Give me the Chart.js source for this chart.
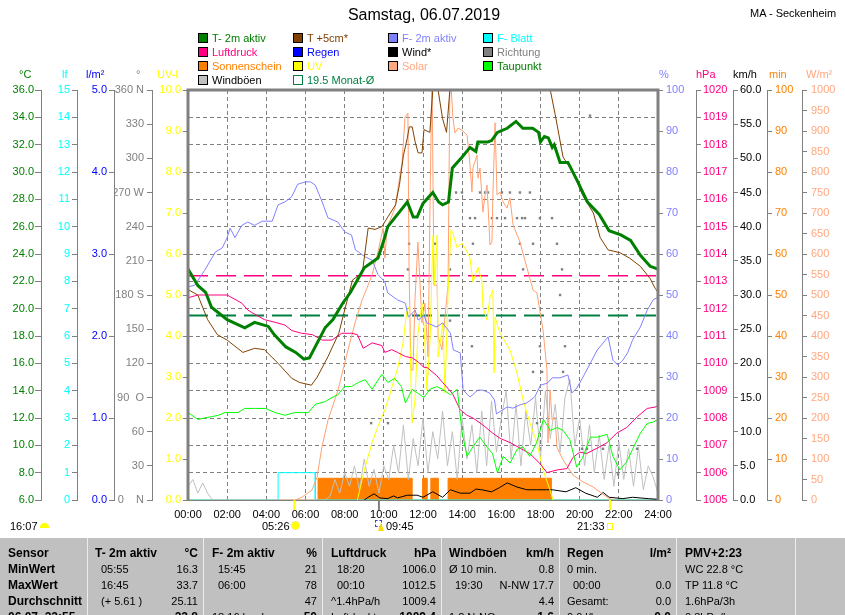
<!DOCTYPE html>
<html lang="de">
<head>
<meta charset="utf-8">
<title>Samstag, 06.07.2019 - MA - Seckenheim</title>
<script src="https://cdn.jsdelivr.net/npm/chart.js"></script>
<style>
  body { margin: 0; background: #fff; }
  #seite { position: relative; width: 845px; height: 615px; overflow: hidden; background: #fff;
           font-family: 'Liberation Sans', Arial, sans-serif; font-size: 11px; color: #000; }
  #diagramm { position: absolute; left: 0; top: 0; }
  .abs { position: absolute; white-space: nowrap; line-height: 14px; }
  .box { position: absolute; width: 8px; height: 8px; border: 1px solid #000; }
  #titel { position: absolute; left: 0; width: 848px; top: 5px; text-align: center; font-size: 16px; line-height: 20px; }
  #ort { position: absolute; left: 750px; top: 6px; font-size: 11px; }
  #tabelle { position: absolute; left: 0; top: 538px; width: 845px; height: 80px; background: #c0c0c0; }
  .spalte { position: absolute; top: 0; height: 80px; box-sizing: border-box; padding: 7px 5px 0 8px;
            border-left: 1px solid #ececec; }
  .z { display: flex; justify-content: space-between; height: 16px; line-height: 16px; white-space: nowrap; }
  .b { font-weight: bold; font-size: 12px; }
  .ein { padding-left: 6px; }
</style>
</head>
<body>
<div id="seite">
  <canvas id="diagramm" width="845" height="530"></canvas>

  <div id="titel">Samstag, 06.07.2019</div>
  <div id="ort" class="abs">MA - Seckenheim</div>

  <!-- Legende -->
  <div class="box" style="left:198px;top:33px;background:#008000"></div><div class="abs" style="left:212px;top:31px;color:#008000">T- 2m aktiv</div>
  <div class="box" style="left:293px;top:33px;background:#804000"></div><div class="abs" style="left:307px;top:31px;color:#804000">T +5cm*</div>
  <div class="box" style="left:388px;top:33px;background:#8080ff"></div><div class="abs" style="left:402px;top:31px;color:#8080ff">F- 2m aktiv</div>
  <div class="box" style="left:483px;top:33px;background:#00ffff"></div><div class="abs" style="left:497px;top:31px;color:#00ffff">F- Blatt</div>

  <div class="box" style="left:198px;top:47px;background:#ff0080"></div><div class="abs" style="left:212px;top:45px;color:#ff0080">Luftdruck</div>
  <div class="box" style="left:293px;top:47px;background:#0000ff"></div><div class="abs" style="left:307px;top:45px;color:#0000ff">Regen</div>
  <div class="box" style="left:388px;top:47px;background:#000"></div><div class="abs" style="left:402px;top:45px;color:#000">Wind*</div>
  <div class="box" style="left:483px;top:47px;background:#808080"></div><div class="abs" style="left:497px;top:45px;color:#808080">Richtung</div>

  <div class="box" style="left:198px;top:61px;background:#ff8000"></div><div class="abs" style="left:212px;top:59px;color:#ff8000">Sonnenschein</div>
  <div class="box" style="left:293px;top:61px;background:#ffff00"></div><div class="abs" style="left:307px;top:59px;color:#ffff00">UV</div>
  <div class="box" style="left:388px;top:61px;background:#ffa880"></div><div class="abs" style="left:402px;top:59px;color:#ffa880">Solar</div>
  <div class="box" style="left:483px;top:61px;background:#00ff00"></div><div class="abs" style="left:497px;top:59px;color:#008000">Taupunkt</div>

  <div class="box" style="left:198px;top:75px;background:#c0c0c0"></div><div class="abs" style="left:212px;top:73px;color:#000">Windböen</div>
  <div class="box" style="left:293px;top:75px;border-color:#008040;background:#fff"></div><div class="abs" style="left:307px;top:73px;color:#008040">19.5 Monat-Ø</div>

  <!-- Einheiten -->
  <div class="abs" style="left:19px;top:67px;color:#008000">°C</div>
  <div class="abs" style="left:62px;top:67px;color:#00ffff">lf</div>
  <div class="abs" style="left:86px;top:67px;color:#0000ff">l/m²</div>
  <div class="abs" style="left:136px;top:67px;color:#808080">°</div>
  <div class="abs" style="left:157px;top:67px;color:#ffff00">UV-I</div>
  <div class="abs" style="left:659px;top:67px;color:#8080ff">%</div>
  <div class="abs" style="left:696px;top:67px;color:#ff0080">hPa</div>
  <div class="abs" style="left:733px;top:67px;color:#000">km/h</div>
  <div class="abs" style="left:769px;top:67px;color:#ff8000">min</div>
  <div class="abs" style="left:806px;top:67px;color:#ffa880">W/m²</div>

  <!-- Sonne / Mond unter der Zeitachse -->
  <div class="abs" style="left:10px;top:519px">16:07</div>
  <div style="position:absolute;left:40px;top:523px;width:9px;height:5px;background:#ffff00;border-radius:5px 5px 0 0"></div>
  <div class="abs" style="left:262px;top:519px">05:26</div>
  <div style="position:absolute;left:292px;top:522px;width:7px;height:7px;background:#ffff00;border-radius:50%;box-shadow:0 0 0 1px #ffe880"></div>
  <div style="position:absolute;left:375px;top:520px;width:5px;height:5px;border:1px dashed #4040c0"></div>
  <div style="position:absolute;left:378px;top:523px;width:0;height:0;border-left:3px solid transparent;border-right:3px solid transparent;border-bottom:8px solid #ffd800"></div>
  <div class="abs" style="left:386px;top:519px">09:45</div>
  <div class="abs" style="left:577px;top:519px">21:33</div>
  <div style="position:absolute;left:607px;top:523px;width:4px;height:5px;border:1px solid #ffff00"></div>

  <!-- Tabelle -->
  <div id="tabelle">
    <div class="spalte" style="left:0;width:87px;border-left:none">
      <div class="z b"><span>Sensor</span></div>
      <div class="z b"><span>MinWert</span></div>
      <div class="z b"><span>MaxWert</span></div>
      <div class="z b"><span>Durchschnitt</span></div>
      <div class="z b"><span>06.07. 22:55</span></div>
    </div>
    <div class="spalte" style="left:87px;width:116px;padding-left:7px">
      <div class="z b"><span>T- 2m aktiv</span><span>°C</span></div>
      <div class="z"><span class="ein">05:55</span><span>16.3</span></div>
      <div class="z"><span class="ein">16:45</span><span>33.7</span></div>
      <div class="z"><span class="ein">(+ 5.61 )</span><span>25.11</span></div>
      <div class="z"><span></span><span class="b">22.8</span></div>
    </div>
    <div class="spalte" style="left:203px;width:119px">
      <div class="z b"><span>F- 2m aktiv</span><span>%</span></div>
      <div class="z"><span class="ein">15:45</span><span>21</span></div>
      <div class="z"><span class="ein">06:00</span><span>78</span></div>
      <div class="z"><span></span><span>47</span></div>
      <div class="z"><span>18:16 h rel.</span><span class="b">50</span></div>
    </div>
    <div class="spalte" style="left:322px;width:119px">
      <div class="z b"><span>Luftdruck</span><span>hPa</span></div>
      <div class="z"><span class="ein">18:20</span><span>1006.0</span></div>
      <div class="z"><span class="ein">00:10</span><span>1012.5</span></div>
      <div class="z"><span>^1.4hPa/h</span><span>1009.4</span></div>
      <div class="z"><span>Luftdr.akt</span><span class="b">1009.4</span></div>
    </div>
    <div class="spalte" style="left:441px;width:118px;padding-left:7px">
      <div class="z b"><span>Windböen</span><span>km/h</span></div>
      <div class="z"><span>Ø 10 min.</span><span>0.8</span></div>
      <div class="z"><span class="ein">19:30</span><span>N-NW 17.7</span></div>
      <div class="z"><span></span><span>4.4</span></div>
      <div class="z"><span>1.2 N-NO</span><span class="b">1.6</span></div>
    </div>
    <div class="spalte" style="left:559px;width:117px;padding-left:7px">
      <div class="z b"><span>Regen</span><span>l/m²</span></div>
      <div class="z"><span>0 min.</span><span></span></div>
      <div class="z"><span class="ein">00:00</span><span>0.0</span></div>
      <div class="z"><span>Gesamt:</span><span>0.0</span></div>
      <div class="z"><span>0.0 l/h</span><span class="b">0.0</span></div>
    </div>
    <div class="spalte" style="left:676px;width:119px">
      <div class="z b"><span>PMV+2:23</span></div>
      <div class="z"><span>WC 22.8 °C</span></div>
      <div class="z"><span>TP 11.8 °C</span></div>
      <div class="z"><span>1.6hPa/3h</span></div>
      <div class="z"><span>0.3hPa/h</span></div>
    </div>
    <div class="spalte" style="left:795px;width:50px"></div>
  </div>
</div>

<script>
// Tageswerte 06.07.2019, Zeit in Stunden, jeweils [Zeit, Wert]

const temp2m = [[0,22.9],[0.5,21.7],[0.9,21.2],[1.2,20.1],[2.0,19.2],[2.9,18.6],[3.4,19.0],[4.1,18.7],[4.4,18.1],
  [5.0,17.2],[5.5,16.8],[5.92,16.3],[6.2,16.4],[6.6,17.5],[7.0,18.6],[7.4,19.2],[7.9,20.4],[8.3,21.2],[9.0,23.0],
  [9.7,23.7],[10.0,25.0],[10.2,26.0],[10.7,26.9],[11.2,27.8],[11.5,26.7],[11.7,26.7],[12.0,27.7],[12.5,28.5],
  [12.8,27.8],[13.0,27.6],[13.3,27.8],[13.5,30.3],[14.0,31.1],[14.4,31.8],[14.7,31.5],[14.8,32.2],[15.3,32.2],
  [15.5,32.3],[15.8,32.9],[16.3,33.2],[16.75,33.7],[17.1,33.2],[17.6,33.2],[17.9,32.9],[18.0,32.2],[18.2,32.6],
  [18.4,32.5],[18.6,31.8],[18.7,32.0],[19.0,30.7],[19.4,30.7],[19.9,29.3],[20.4,27.8],[21.0,26.9],[21.5,25.7],
  [22.1,25.4],[22.6,25.0],[23.1,23.9],[23.6,23.1],[24.0,22.9]];

const temp5cm = [[0,21.4],[0.5,21.0],[1.0,19.2],[1.5,18.1],[2.0,17.7],[2.8,16.8],[3.4,17.1],[3.9,17.0],[4.6,16.0],
  [5.3,14.9],[5.7,14.6],[6.3,14.4],[6.6,15.0],[7.15,16.5],[7.7,18.2],[8.0,19.9],[8.4,22.1],[8.9,22.6],[9.2,25.9],
  [9.55,25.8],[9.9,26.0],[10.2,26.7],[10.6,27.6],[10.8,29.1],[11.0,31.2],[11.2,32.5],[11.3,33.3],[11.45,33.3],
  [11.6,32.2],[11.75,31.4],[11.95,31.4],[12.05,33.1],[12.35,32.9],[12.5,36.0],[12.65,38.5],[12.77,36.0],[13.0,33.9],
  [13.2,32.9],[13.4,36.5],[13.7,40.0],[14.5,42.5],[15.5,43.5],[16.5,43.0],[17.5,41.0],[18.2,38.0],[18.5,36.0],
  [18.75,34.2],[19.15,31.1],[19.65,30.0],[20.15,28.3],[20.7,27.0],[21.05,25.2],[21.45,24.3],[22.05,24.1],
  [22.55,23.7],[23.1,23.1],[23.6,22.2],[23.85,21.5],[24,21.2]];

const feuchte = [[0,52],[0.35,52.4],[0.85,56],[1.4,60.5],[1.75,61.5],[2.0,64],[2.15,66.3],[2.4,64],[2.75,67],
  [3.05,67.8],[3.4,67],[3.8,68],[4.3,68],[4.6,72],[4.95,72.7],[5.3,74],[5.6,77],[6.0,77.6],[6.25,77.6],[6.5,76.8],
  [6.85,72.7],[7.15,68.8],[7.65,67.8],[8.0,65.4],[8.35,64.6],[8.55,61],[8.7,60.5],[9.05,59.3],[9.4,58.5],[9.7,55],
  [10.05,53.2],[10.2,50.5],[10.7,48.8],[11.1,48],[11.25,44.6],[11.6,46.3],[11.75,43.9],[12.05,45],[12.2,43.2],
  [12.7,42.2],[13.0,43.2],[13.4,40.7],[13.55,36.6],[13.9,35.9],[14.05,26.8],[14.4,25.1],[14.8,26.8],[15.05,26.8],
  [15.4,26.1],[15.65,24.4],[15.75,21],[16.3,22.7],[16.6,22.4],[16.95,23.2],[17.3,23.7],[17.7,25.1],[18.0,28],
  [18.35,28.5],[18.6,29.8],[19.0,29.8],[19.4,30.5],[19.6,26.1],[19.85,27.3],[20.15,29.8],[20.55,33.4],[20.9,36.6],
  [21.2,38.3],[21.45,39.8],[21.7,34.1],[21.95,32.9],[22.2,34.1],[22.45,35.9],[22.7,39],[23.1,42.2],[23.45,46.3],
  [23.75,48.8],[24,49.5]];

const luftdruck = [[0,1012.4],[0.5,1012.5],[2.0,1012.5],[2.5,1012.3],[2.75,1012.2],[3.05,1011.95],[3.4,1011.8],
  [3.9,1011.6],[4.45,1011.5],[4.95,1011.4],[5.3,1011.2],[5.8,1011.1],[6.35,1011.05],[6.85,1010.85],[7.35,1010.85],
  [7.85,1011.1],[8.35,1011.1],[8.65,1011.05],[8.95,1010.55],[9.4,1010.75],[9.9,1010.65],[10.05,1010.4],[10.4,1010.5],
  [10.7,1010.4],[11.1,1010.25],[11.45,1010.2],[11.75,1010.05],[12.05,1009.85],[12.2,1009.85],[12.7,1009.55],
  [13.0,1009.3],[13.5,1008.9],[13.9,1008.3],[14.25,1008.1],[14.55,1008.0],[15.05,1007.75],[15.55,1007.45],
  [15.95,1007.25],[16.45,1007.1],[16.95,1006.9],[17.45,1006.7],[17.95,1006.35],[18.33,1006.0],[18.85,1006.1],
  [19.35,1006.15],[19.65,1006.55],[20.0,1006.75],[20.35,1006.7],[20.9,1006.9],[21.4,1007.1],[21.9,1007.45],
  [22.4,1007.65],[22.95,1008.05],[23.45,1008.35],[23.85,1008.4],[24,1008.45]];

const taupunkt = [[0,12.4],[0.2,12.2],[0.5,11.9],[0.85,12.0],[1.2,12.1],[1.55,12.2],[1.9,12.4],[2.25,12.4],
  [2.55,12.4],[2.9,12.7],[3.4,12.7],[3.95,12.7],[4.45,12.4],[4.95,12.2],[5.45,12.4],[5.85,12.4],[6.15,12.4],
  [6.5,13.0],[7.0,13.2],[7.35,13.5],[7.65,13.7],[8.0,14.3],[8.35,14.3],[8.7,14.6],[9.05,14.8],[9.4,14.1],[9.9,15.2],
  [10.2,14.6],[10.55,14.9],[10.9,14.3],[11.1,13.1],[11.45,14.1],[11.75,13.8],[12.05,13.5],[12.35,14.1],[12.7,14.3],
  [13.0,14.1],[13.4,13.7],[13.75,14.1],[14.0,10.9],[14.25,9.2],[14.55,9.9],[14.9,10.6],[15.25,9.9],[15.55,9.4],
  [15.8,8.0],[16.1,9.2],[16.45,8.7],[16.8,9.7],[17.1,9.9],[17.45,9.2],[17.8,10.2],[18.15,11.9],[18.5,11.1],
  [18.85,11.3],[19.15,11.1],[19.5,10.4],[19.85,8.4],[20.15,9.1],[20.55,10.6],[20.9,10.6],[21.4,10.8],[21.7,9.2],
  [22.05,8.2],[22.4,8.8],[22.7,9.7],[23.1,10.9],[23.45,11.6],[23.75,11.7],[24,11.9]];

const solar = [[5.5,0],[5.82,7],[6.33,24],[6.59,56],[6.84,129],[7.15,195],[7.66,268],[8.17,366],[8.53,432],
  [8.89,488],[9.14,517],[9.4,549],[9.7,605],[9.96,663],[10.06,590],[10.16,663],[10.57,712],[10.93,824],[11.08,932],
  [11.23,944],[11.29,556],[11.39,317],[11.49,317],[11.59,488],[11.74,629],[11.95,432],[12.1,480],[12.26,349],
  [12.36,727],[12.46,1050],[12.56,524],[12.72,524],[12.77,398],[12.97,366],[13.12,446],[13.28,524],[13.38,1050],
  [13.53,932],[13.63,895],[13.79,907],[13.99,902],[14.25,890],[14.4,817],[14.5,751],[14.55,810],[14.76,841],
  [14.81,785],[14.91,810],[15.06,702],[15.17,744],[15.27,768],[15.42,622],[15.52,629],[15.57,744],[15.68,920],
  [15.78,744],[15.93,751],[16.09,727],[16.29,712],[16.44,737],[16.6,671],[16.95,629],[17.31,566],[17.62,512],
  [17.82,505],[18.13,415],[18.33,317],[18.38,139],[18.49,268],[18.59,195],[18.74,202],[18.84,129],[19.15,98],
  [19.66,61],[20.17,44],[20.68,32],[21.4,7],[21.7,0]];

const uvIndex = [[8.65,0],[9.04,0.8],[9.4,1.4],[9.7,1.8],[10.06,2.2],[10.42,2.76],[10.72,3.24],[10.98,3.83],
  [11.18,4.63],[11.29,4.71],[11.44,1.88],[11.59,2.44],[11.74,4.07],[11.95,4.8],[12.05,4.27],[12.2,2.68],[12.36,3.9],
  [12.51,6.46],[12.61,5.24],[12.72,6.46],[12.77,3.49],[13.02,4.32],[13.12,2.61],[13.28,5.07],[13.43,6.59],
  [13.53,6.51],[13.74,6.15],[13.99,6.27],[14.25,6.05],[14.4,5.9],[14.55,5.32],[14.81,5.68],[15.01,5.32],
  [15.06,4.71],[15.27,4.39],[15.42,4.95],[15.57,5.12],[15.63,3.1],[15.68,4.46],[15.93,4.07],[16.44,3.66],
  [16.8,3.1],[17.11,2.44],[17.46,1.88],[17.82,1.39],[18.13,0.73],[18.49,0.24],[18.64,0]];

// Windböen alle 15 Minuten ab 00:00
const boeen = [2,3,1,2.5,1,0, 0,0,0,0,0,0,0,0,0,0,0,0,0,0,0,0,0,0,0,0,0,0,0,
  0.5,3,1,4,2,5,1.5,6,2,4.5,1,5,3,8,4,11,3,9,5,12,4,10,6,13,5,10,3,12,6,11,4,13,5,14.5,7,12,16,6,14,5,13,8,15,
  6,16,9,14,7,15,17.7,8,12,5,11,4,9.5,3,8,2,8.5,3,7.5,2,7.8,1.5,5,3.4,1];

const wind = [[9.0,0],[9.2,0.4],[9.5,0.9],[9.8,0.3],[10.2,0.2],[10.5,0.6],[10.7,0.3],[11.2,0.7],[11.7,0.7],
  [12.0,0.4],[12.5,1.2],[13.0,0.4],[13.4,1.5],[13.9,1.0],[14.4,1.0],[14.7,1.6],[15.0,1.5],[15.5,1.2],[15.9,1.8],
  [16.3,2.5],[16.8,1.9],[17.3,1.5],[17.8,1.5],[18.3,1.5],[18.6,1.5],[19.3,1.2],[19.8,1.8],[20.3,1.0],[20.9,0.4],
  [21.2,1.1],[21.5,0.4],[22.2,0.2],[22.7,0.4],[23.5,0.2],[24,0.1]];

const richtung = [[9.35,67.5],[10.21,67.5],[11.23,202.5],[11.29,225],[12.61,225],[13.38,202.5],[13.38,157.5],
  [13.69,270],[13.99,270],[14.4,247.5],[14.5,135],[14.55,225],[14.66,247.5],[14.91,270],[15.17,270],[15.32,270],
  [15.52,247.5],[15.78,247.5],[16.03,270],[16.19,247.5],[16.44,270],[16.8,247.5],[16.95,270],[16.95,225],
  [17.06,247.5],[17.11,202.5],[17.21,247.5],[17.46,270],[17.62,225],[17.62,112.5],[17.82,67.5],[17.97,247.5],
  [17.97,135],[18.08,112.5],[18.59,247.5],[18.84,225],[19.0,180],[19.1,202.5],[19.15,112.5],[19.25,135],
  [20.12,45],[20.37,45],[20.53,337.5],[21.19,45],[21.96,22.5],[22.93,45]];

const sonnenschein = [[0,0],[6.64,0],[6.64,5.3],[11.43,5.3],[11.43,0],[11.98,0],[11.98,5.3],[12.2,5.3],[12.2,0],
  [12.4,0],[12.4,5.3],[12.77,5.3],[12.77,0],[13.28,0],[13.28,5.3],[18.54,5.3],[18.54,0],[24,0]];

const blattFeuchte = [[0,0],[4.6,0],[4.6,1],[6.5,1],[6.5,0],[24,0]];

const monatMittelTemp = 19.5;
const monatMittelDruck = 1013.2;

const sonnenaufgang = 5 + 26 / 60;
const sonnenuntergang = 21 + 33 / 60;
const mondaufgang = 9 + 45 / 60;

// Achsenbeschriftungen
const tickZeit = [0,2,4,6,8,10,12,14,16,18,20,22,24];
const tickTemp = [6,8,10,12,14,16,18,20,22,24,26,28,30,32,34,36];
const tickBlatt = [0,1,2,3,4,5,6,7,8,9,10,11,12,13,14,15];
const tickRegen = [0,1,2,3,4,5];
const tickRichtung = [0,30,60,90,120,150,180,210,240,270,300,330,360];
const richtungNamen = { 0: '0    N', 90: '90  O', 180: '180 S', 270: '270 W', 360: '360 N' };
const tickUV = [0,1,2,3,4,5,6,7,8,9,10];
const tickFeuchte = [0,10,20,30,40,50,60,70,80,90,100];
const tickDruck = [1005,1006,1007,1008,1009,1010,1011,1012,1013,1014,1015,1016,1017,1018,1019,1020];
const tickWind = [0,5,10,15,20,25,30,35,40,45,50,55,60];
const tickSonne = [0,10,20,30,40,50,60,70,80,90,100];
const tickSolar = [0,50,100,150,200,250,300,350,400,450,500,550,600,650,700,750,800,850,900,950,1000];

const grau = '#808080';
Chart.defaults.font.family = "'Liberation Sans', Arial, sans-serif";
Chart.defaults.font.size = 11;

function punkte(reihe) {
  return reihe.map(p => ({ x: p[0], y: p[1] }));
}

// Hilfsfunktion für die vielen Nebenachsen
function achse(seite, gewicht, breite, min, max, ticks, farbe, format, abstand) {
  return {
    type: 'linear', position: seite, weight: gewicht, min: min, max: max,
    afterFit: s => { s.width = breite; },
    afterBuildTicks: s => { s.ticks = ticks.map(v => ({ value: v })); },
    grid: { drawOnChartArea: false, drawTicks: true, tickLength: 5, color: grau },
    border: { display: true, color: grau, width: 1 },
    ticks: { color: farbe, padding: abstand || 2, autoSkip: false, callback: format }
  };
}

const kurven = [
  { label: 'T- 2m aktiv', data: punkte(temp2m), yAxisID: 'yTemp', borderColor: '#008000', borderWidth: 3 },
  { label: 'T +5cm*', data: punkte(temp5cm), yAxisID: 'yTemp', borderColor: '#804000', borderWidth: 1 },
  { label: 'Taupunkt', data: punkte(taupunkt), yAxisID: 'yTemp', borderColor: '#00ff00', borderWidth: 1 },
  { label: 'F- 2m aktiv', data: punkte(feuchte), yAxisID: 'yFeuchte', borderColor: '#8080ff', borderWidth: 1 },
  { label: 'Luftdruck', data: punkte(luftdruck), yAxisID: 'yDruck', borderColor: '#ff0080', borderWidth: 1 },
  { label: 'UV', data: punkte(uvIndex), yAxisID: 'yUV', borderColor: '#ffff00', borderWidth: 1 },
  { label: 'Solar', data: punkte(solar), yAxisID: 'ySolar', borderColor: '#ffa070', borderWidth: 1 },
  { label: 'Wind*', data: punkte(wind), yAxisID: 'yWind', borderColor: '#000000', borderWidth: 1 },
  { label: 'Richtung', data: punkte(richtung), yAxisID: 'yRichtung', showLine: false, pointRadius: 1.7,
    pointStyle: 'rect', pointBackgroundColor: grau, pointBorderWidth: 0, borderColor: grau },
  { label: 'Windböen', data: boeen.map((v, i) => ({ x: i * 0.25, y: v })), yAxisID: 'yWind',
    borderColor: '#c0c0c0', borderWidth: 1 },
  { label: 'Monat-Ø Druck', data: [{ x: 0, y: monatMittelDruck }, { x: 24, y: monatMittelDruck }], yAxisID: 'yDruck',
    borderColor: '#ff0080', borderWidth: 1.5, borderDash: [20, 8] },
  { label: '19.5 Monat-Ø', data: [{ x: 0, y: monatMittelTemp }, { x: 24, y: monatMittelTemp }], yAxisID: 'yTemp',
    borderColor: '#008040', borderWidth: 2, borderDash: [20, 8] },
  { label: 'F- Blatt', data: punkte(blattFeuchte), yAxisID: 'yBlatt', borderColor: '#00ffff', borderWidth: 1 },
  { label: 'Sonnenschein', data: punkte(sonnenschein), yAxisID: 'ySonne', borderColor: '#ff8000', borderWidth: 1,
    fill: 'origin', backgroundColor: '#ff8000' }
];

// Rahmen um die Zeichenfläche und Marken für Sonnenauf-/untergang
const rahmen = {
  id: 'rahmen',
  afterDatasetsDraw(chart) {
    const { ctx, chartArea: a, scales } = chart;
    ctx.save();
    ctx.strokeStyle = grau;
    ctx.lineWidth = 3;
    ctx.beginPath();
    ctx.moveTo(a.left, a.bottom);
    ctx.lineTo(a.left, a.top);
    ctx.lineTo(a.right, a.top);
    ctx.lineTo(a.right, a.bottom);
    ctx.stroke();
    ctx.lineWidth = 1;
    ctx.beginPath();
    ctx.moveTo(a.left, a.bottom + 0.5);
    ctx.lineTo(a.right, a.bottom + 0.5);
    ctx.stroke();

    const marken = [[sonnenaufgang, '#ffff00'], [sonnenuntergang, '#ffff00'], [mondaufgang, grau]];
    ctx.lineWidth = 2;
    marken.forEach(m => {
      const px = scales.x.getPixelForValue(m[0]);
      ctx.strokeStyle = m[1];
      ctx.beginPath();
      ctx.moveTo(px, a.bottom);
      ctx.lineTo(px, a.bottom + 10);
      ctx.stroke();
    });
    ctx.restore();
  }
};

new Chart(document.getElementById('diagramm'), {
  type: 'line',
  data: { datasets: kurven },
  plugins: [rahmen],
  options: {
    responsive: false,
    animation: false,
    devicePixelRatio: 1,
    layout: { padding: { top: 90, left: 0, right: 0, bottom: 0 } },
    elements: { point: { radius: 0 }, line: { tension: 0 } },
    plugins: { legend: { display: false }, tooltip: { enabled: false } },
    scales: {
      x: {
        type: 'linear', position: 'bottom', min: 0, max: 24,
        afterFit: s => { s.height = 30; },
        afterBuildTicks: s => { s.ticks = tickZeit.map(v => ({ value: v })); },
        grid: { color: grau, drawTicks: false },
        border: { display: true, color: grau, width: 1, dash: [4, 3] },
        ticks: { color: '#000', padding: 8, autoSkip: false, maxRotation: 0,
                 callback: v => String(v).padStart(2, '0') + ':00' }
      },
      yTemp: {
        type: 'linear', position: 'left', weight: 4, min: 6, max: 36,
        afterFit: s => { s.width = 41; },
        afterBuildTicks: s => { s.ticks = tickTemp.map(v => ({ value: v })); },
        grid: { drawOnChartArea: true, drawTicks: true, tickLength: 6, color: grau, tickColor: grau },
        border: { display: true, color: grau, width: 1, dash: [4, 3] },
        ticks: { color: '#008000', padding: 1, autoSkip: false, callback: v => v.toFixed(1) }
      },
      yBlatt: achse('left', 3, 36, 0, 15, tickBlatt, '#00ffff', v => String(v)),
      yRegen: achse('left', 2, 37, 0, 5, tickRegen, '#0000ff', v => v.toFixed(1)),
      yRichtung: achse('left', 1, 38, 0, 360, tickRichtung, grau, v => richtungNamen[v] || String(v), 3),
      yUV: achse('left', 0, 36, 0, 10, tickUV, '#ffff00', v => v.toFixed(1)),
      yFeuchte: achse('right', 0, 38, 0, 100, tickFeuchte, '#8080ff', v => String(v), 3),
      yDruck: achse('right', 1, 37, 1005, 1020, tickDruck, '#ff0080', v => String(v)),
      yWind: achse('right', 2, 34, 0, 60, tickWind, '#000000', v => v.toFixed(1)),
      ySonne: achse('right', 3, 35, 0, 100, tickSonne, '#ff8000', v => String(v), 3),
      ySolar: achse('right', 4, 43, 0, 1000, tickSolar, '#ffa880', v => String(v), 4)
    }
  }
});
</script>
</body>
</html>
